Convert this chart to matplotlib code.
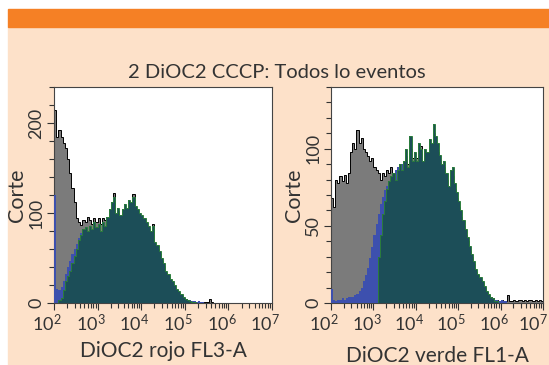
import numpy as np
import matplotlib
matplotlib.use("Agg")
import matplotlib.pyplot as plt
from matplotlib.patches import Rectangle
from matplotlib.transforms import ScaledTranslation
from matplotlib.ticker import FixedLocator, LogLocator, NullFormatter

plt.rcParams['font.family'] = ['Lato', 'DejaVu Sans']

# histogram counts, 20 bins per decade starting at 10^2
# panel 1: DiOC2 rojo FL3-A
rojo_gris = [215, 185, 192, 184, 178, 172, 160, 145, 128, 112, 95, 90, 87, 92, 90, 96, 92, 88, 95, 90,
             94, 88, 95, 92, 92, 100, 108, 122, 96, 102, 95, 100, 106, 102, 110, 108, 121, 104, 100, 96,
             94, 90, 86, 82, 76, 88, 64, 60, 54, 47, 41, 33, 29, 24, 21, 17, 14, 11, 8, 6,
             4, 2, 1, 1, 1, 0, 0, 1, 0, 1, 1, 4, 1]
rojo_azul = [120, 16, 14, 18, 24, 32, 40, 47, 54, 60, 66, 72, 78, 82, 82, 77, 83, 79, 87, 81,
             85, 77, 87, 83, 93, 101, 109, 115, 97, 103, 95, 101, 107, 103, 111, 109, 115, 105, 101, 97,
             95, 91, 87, 83, 77, 83, 65, 61, 55, 47, 41, 33, 29, 24, 21, 17, 13, 10, 7, 4,
             4, 3, 3, 2, 2, 1, 2, 1, 1]
rojo_verde = [0, 0, 3, 6, 14, 24, 30, 36, 44, 52, 60, 70, 76, 82, 84, 80, 86, 82, 90, 84,
              88, 80, 90, 86, 96, 104, 112, 118, 100, 106, 98, 104, 110, 106, 114, 112, 118, 108, 104, 100,
              98, 94, 90, 86, 80, 86, 68, 64, 58, 50, 44, 36, 32, 27, 24, 20, 16, 13, 10, 7,
              5, 3, 2, 1, 1]

# panel 2: DiOC2 verde FL1-A
verde_gris = [68, 62, 80, 78, 82, 79, 83, 78, 84, 98, 104, 100, 112, 104, 107, 100, 98, 95, 92, 94,
              88, 86, 84, 80, 84, 82, 86, 84, 88, 82, 86, 84, 90, 86, 88, 95, 90, 100, 94, 92,
              94, 98, 102, 88, 96, 92, 100, 98, 110, 104, 98, 92, 86, 88, 80, 72, 80, 82, 74, 68,
              62, 56, 50, 44, 40, 34, 30, 25, 20, 18, 15, 13, 10, 7, 5, 4, 3, 2, 2, 1,
              2, 1, 1, 5, 1, 1, 2, 1, 2, 2, 1, 2, 1, 2, 2, 1, 2, 1, 2, 1]
verde_azul = [9, 2, 1, 2, 2, 3, 2, 3, 4, 4, 4, 5, 6, 8, 10, 14, 18, 23, 29, 36,
              44, 51, 58, 64, 69, 73, 76, 79, 82, 84, 86, 88, 89, 90, 88, 96, 84, 104, 88, 94,
              88, 100, 96, 88, 96, 94, 102, 100, 112, 104, 100, 92, 86, 88, 80, 72, 82, 84, 74, 68,
              62, 56, 50, 44, 39, 33, 28, 23, 18, 15, 13, 10, 7, 5, 4, 3, 2, 2, 2, 1,
              2, 1, 1]
verde_verde = [0, 0, 0, 0, 0, 0, 0, 0, 0, 0, 0, 0, 0, 0, 0, 0, 0, 0, 0, 0,
               0, 0, 30, 44, 58, 66, 74, 79, 82, 84, 80, 86, 90, 86, 92, 100, 88, 108, 92, 98,
               92, 104, 100, 92, 100, 98, 106, 104, 116, 108, 104, 96, 90, 92, 84, 76, 86, 88, 78, 72,
               66, 60, 54, 48, 43, 37, 32, 27, 22, 19, 17, 14, 11, 8, 6, 4, 3, 1, 1]

crema = '#fde1c9'
naranja = '#f58025'
c_gris = '#7b7b7b'
c_azul = '#3d50ae'
c_teal = '#1c4e58'
c_verde = '#2b7d3c'


def edges(vals):
    return 10 ** (2 + 0.05 * np.arange(len(vals) + 1))


def panel(ax, gris, azul, verde, ymax, ymajor, ystep, xlabel, pad, last_shift):
    ax.stairs(gris, edges(gris), fill=True, color=c_gris, zorder=1)
    ax.stairs(gris, edges(gris), color='black', lw=0.7, zorder=2)
    ax.stairs(azul, edges(azul), fill=True, color=c_azul, zorder=3)
    ax.stairs(verde, edges(verde), fill=True, color=c_teal, zorder=4)
    ax.stairs(verde, edges(verde), color=c_verde, lw=0.7, zorder=5)
    ax.set_xscale('log')
    ax.set_xlim(1e2, 1e7)
    ax.set_ylim(0, ymax)
    ax.xaxis.set_major_locator(FixedLocator([1e2, 1e3, 1e4, 1e5, 1e6, 1e7]))
    ax.xaxis.set_minor_locator(LogLocator(base=10, subs=np.arange(2, 10), numticks=20))
    ax.xaxis.set_minor_formatter(NullFormatter())
    ax.set_yticks(ymajor)
    ax.set_yticks(np.arange(0, ymax + 1, ystep), minor=True)
    ax.tick_params(axis='both', which='major', length=5, width=0.8, color='#333333',
                   labelsize=13, labelcolor='#333333', pad=2)
    ax.tick_params(axis='both', which='minor', length=3.5, width=0.8, color='#333333')
    for lab in ax.get_yticklabels():
        lab.set_rotation(90)
        lab.set_va('center')
    labs = ax.get_xticklabels()
    for k, lab in enumerate(labs):
        dx = last_shift if k == len(labs) - 1 else -0.07
        lab.set_transform(lab.get_transform() + ScaledTranslation(dx, 0, ax.figure.dpi_scale_trans))
    for s in ax.spines.values():
        s.set_color('#444444')
        s.set_linewidth(0.8)
    ax.set_xlabel(xlabel, fontsize=15, color='#333333', labelpad=pad)
    ax.set_ylabel('Corte', fontsize=15.5, color='#333333', labelpad=1)


fig = plt.figure(figsize=(5.49, 3.65), dpi=100, facecolor='white')
fig.patches.append(Rectangle((8 / 549, 0), 1, 338 / 365, transform=fig.transFigure,
                             color=crema, zorder=-10))
fig.patches.append(Rectangle((8 / 549, 1 - 27 / 365), 1, 18 / 365, transform=fig.transFigure,
                             color=naranja, zorder=-10))

ax1 = fig.add_axes([54 / 549, 1 - 303 / 365, 218 / 549, 216 / 365])
ax2 = fig.add_axes([331 / 549, 1 - 303 / 365, 212 / 549, 216 / 365])

panel(ax1, rojo_gris, rojo_azul, rojo_verde, 240, [0, 100, 200], 20, 'DiOC2 rojo FL3-A', 5, -0.07)
panel(ax2, verde_gris, verde_azul, verde_verde, 140, [0, 50, 100], 10, 'DiOC2 verde FL1-A', 9, -0.10)

fig.text(277 / 549, 1 - 72 / 365, '2 DiOC2 CCCP: Todos lo eventos', ha='center', va='center',
         fontsize=14.5, color='#333333')

fig.savefig('out.png', dpi=100, facecolor=fig.get_facecolor())
